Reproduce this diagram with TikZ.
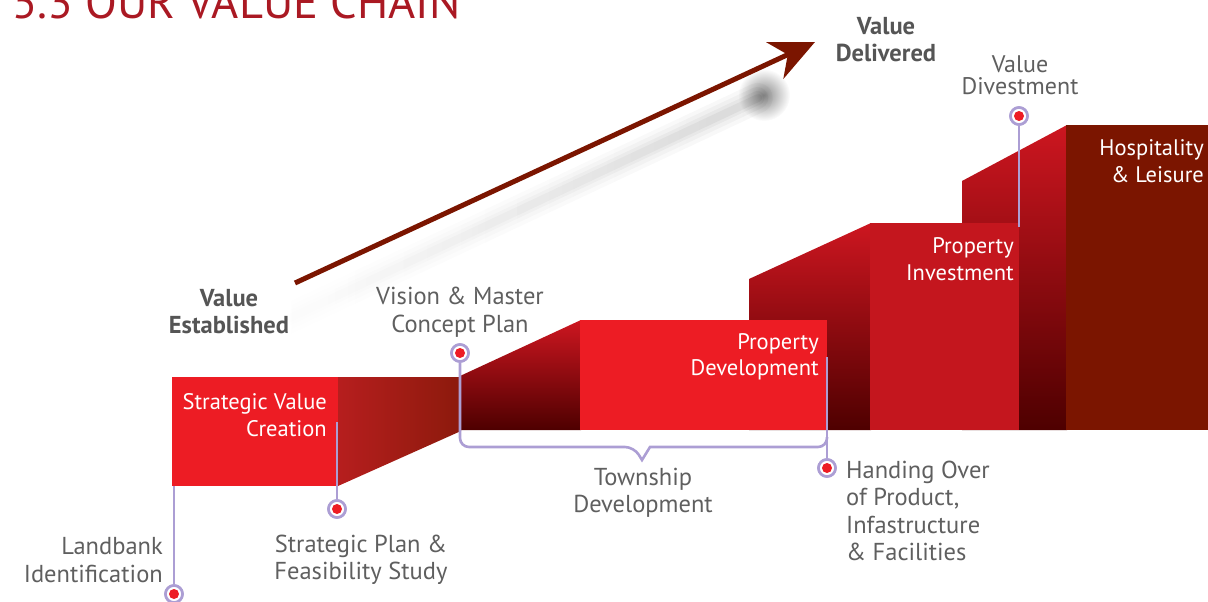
\documentclass[tikz,border=0pt]{standalone}
\usepackage{fontspec}
\setmainfont{PT Sans}
\usetikzlibrary{arrows.meta,fadings}
\tikzfading[name=softblob, inner color=transparent!0, outer color=transparent!100]
\definecolor{boxred}{RGB}{237,28,36}
\definecolor{invred}{RGB}{196,22,30}
\definecolor{hosp}{RGB}{123,21,0}
\definecolor{deep}{RGB}{78,0,0}
\definecolor{brightred}{RGB}{205,22,32}
\definecolor{pincol}{RGB}{172,158,212}
\definecolor{labgray}{RGB}{95,95,95}
\definecolor{boldgray}{RGB}{85,85,85}
\definecolor{titlered}{RGB}{170,25,35}
\definecolor{arrowred}{RGB}{123,21,0}
\begin{document}
\begin{tikzpicture}[x=1pt,y=-1pt,
  lab/.style={text=labgray, font=\fontsize{24.5}{27.5}\selectfont, align=center, inner sep=0pt},
  wlab/.style={text=white, font=\fontsize{22.5}{26.5}\selectfont, align=right, inner sep=0pt, anchor=east},
  blab/.style={text=boldgray, font=\bfseries\fontsize{24.5}{27}\selectfont, align=center, inner sep=0pt},
  stagebox/.style={inner sep=0pt, anchor=north west, draw=none},
  pinline/.style={draw=pincol, line width=2.6pt},
  pinmark/.style={circle, draw=pincol, line width=2.6pt, fill=white, minimum size=17pt, inner sep=0pt,
    path picture={\fill[boxred] (path picture bounding box.center) circle (5pt);}}
]
\useasboundingbox (0,0) rectangle (1208,602);

% title
\node[anchor=base west, text=titlered, font=\fontsize{46.5}{46.5}\selectfont, inner sep=0pt] (title) at (12,19) {5.3 OUR VALUE CHAIN};

% shadow of the arrow
\foreach \w/\o in {30/0.03,22/0.035,14/0.045,8/0.05}
  \draw[line width=\w pt, black, opacity=\o, line cap=round, path fading=west] (275,325) -- (758,98);
\fill[black, opacity=0.45, path fading=softblob] (764,95) circle (26pt);

% main arrow
\coordinate (arrS) at (295,283);
\coordinate (arrE) at (815,42);
\draw[arrowred, line width=5pt, -{Stealth[length=44pt, width=40pt, inset=14pt]}] (arrS) -- (arrE);

% back shapes and boxes (back to front)
\shade[top color=brightred, bottom color=deep] (962,181) -- (1067,125) -- (1067,430) -- (962,430) -- cycle;
\node[stagebox, fill=hosp, minimum width=142pt, minimum height=305pt] (hl) at (1066,125) {};
\shade[top color=brightred, bottom color=deep] (749,279) -- (871,223) -- (871,430) -- (749,430) -- cycle;
\node[stagebox, fill=invred, minimum width=149pt, minimum height=207pt] (pi) at (870,223) {};
\shade[top color=brightred, bottom color=deep] (460,376) -- (581,320) -- (581,430) -- (460,430) -- cycle;
\node[stagebox, fill=boxred, minimum width=247pt, minimum height=110pt] (pd) at (580,320) {};
\shade[left color={rgb,255:red,182;green,30;blue,30}, right color={rgb,255:red,140;green,26;blue,12}]
  (338,377) -- (461,377) -- (461,431) -- (338,486) -- cycle;
\node[stagebox, fill=boxred, minimum width=166pt, minimum height=109pt] (svc) at (172,377) {};

% text inside boxes
\node[wlab] (tsvc) at (327,415) {Strategic Value\\Creation};
\node[wlab] (tpd) at (819,357) {Property\\Development};
\node[wlab] (tpi) at (1014,259) {Property\\Investment};
\node[wlab] (thl) at (1204,161) {Hospitality\\\& Leisure};

% pins
\node[pinmark] (p1) at (174,594) {};
\node[pinmark] (p2) at (337,509) {};
\node[pinmark] (p3) at (460,353) {};
\node[pinmark] (p4) at (827,468) {};
\node[pinmark] (p5) at (1019,116) {};
\coordinate (c2) at (337,422);
\coordinate (c4) at (827,357);
\coordinate (c5) at (1019,227);

\draw[pinline] (p1.north) -- (p1 |- svc.south);
\draw[pinline] (p2.north) -- (c2);
\draw[pinline] (p3.south) [rounded corners=9pt] -- (460,447) -- (634,447) [sharp corners] -- (642,460) -- (650,447) [rounded corners=9pt] -- (827,447) -- (827,437);
\draw[pinline] (p4.north) -- (c4);
\draw[pinline] (p5.south) -- (c5);
% redraw pins on top of lines
\node[pinmark] at (p1) {};
\node[pinmark] at (p2) {};
\node[pinmark] at (p3) {};
\node[pinmark] at (p4) {};
\node[pinmark] at (p5) {};

% outside labels
\node[lab, align=right, anchor=east] (l1) at (163,560) {Landbank\\Identification};
\node[lab] (l2) at (361,560) {Strategic Plan \&\\Feasibility Study};
\node[lab] (l3) at (460,312) {Vision \& Master\\Concept Plan};
\node[lab] (l4) at (643,493) {Township\\Development};
\node[lab, align=left, anchor=west] (l5) at (846,511) {Handing Over\\of Product,\\Infastructure\\\& Facilities};
\node[lab, font=\fontsize{24}{22.5}\selectfont] (l6) at (1020,75) {Value\\Divestment};
\node[blab] (b1) at (229,312) {Value\\Established};
\node[blab] (b2) at (886,40) {Value\\Delivered};
\end{tikzpicture}
\end{document}
